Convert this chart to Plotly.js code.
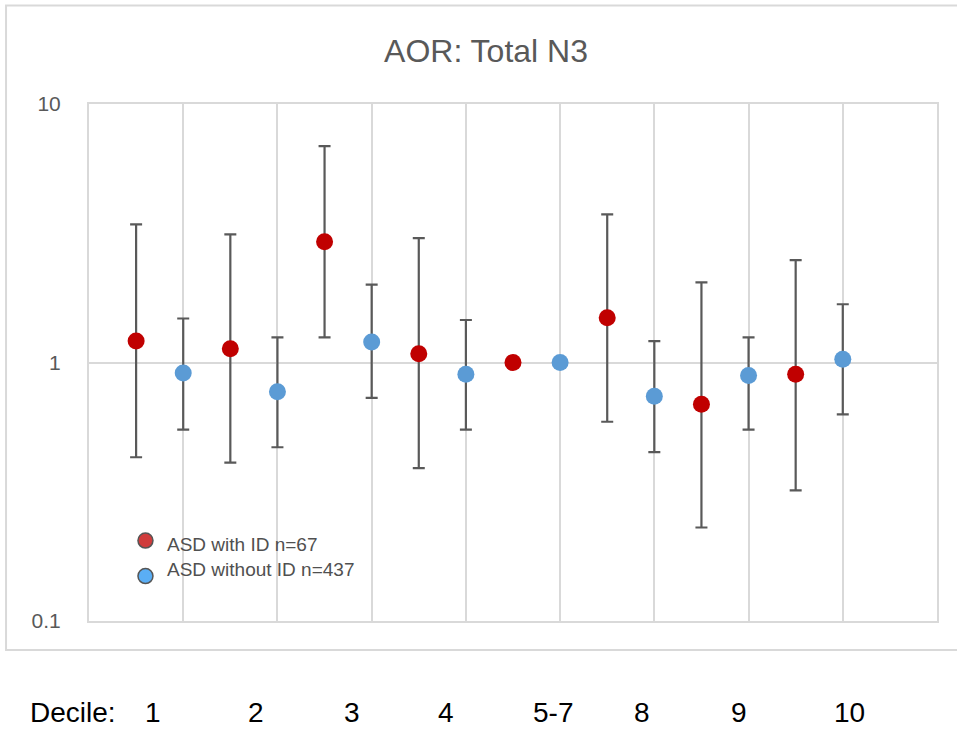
<!DOCTYPE html>
<html>
<head>
<meta charset="utf-8">
<script src="https://cdn.plot.ly/plotly-3.0.1.min.js"></script>
<style>
  html, body { margin: 0; padding: 0; background: #ffffff; }
  #chart { width: 957px; height: 729px; }
</style>
</head>
<body>
<div id="chart"></div>
<script>
// ---- data ----
const decileLabels = ['1', '2', '3', '4', '5-7', '8', '9', '10'];

const redName = 'ASD with ID n=67';
const redAOR   = [1.21, 1.13, 2.93, 1.08, 1.00, 1.49, 0.69, 0.90];
const redUpper = [3.42, 3.13, 6.87, 3.03, null, 3.74, 2.04, 2.49];
const redLower = [0.43, 0.41, 1.25, 0.39, null, 0.59, 0.23, 0.32];

const blueName = 'ASD without ID n=437';
const blueAOR   = [0.91, 0.77, 1.20, 0.90, 1.00, 0.74, 0.89, 1.03];
const blueUpper = [1.48, 1.25, 2.00, 1.46, null, 1.21, 1.25, 1.68];
const blueLower = [0.55, 0.47, 0.73, 0.55, null, 0.45, 0.55, 0.63];

const yTickVals  = [0.1, 1, 10];
const yTickText  = ['0.1', '1', '10'];

// ---- layout geometry (pixels) ----
const L = 89, T = 103.5, W = 848.5, H = 517.5;
const FIG_W = 957, FIG_H = 729;
const px = x => (x - L) / W;
const py = y => (T + H - y) / H;

const redX  = decileLabels.map((d, i) => i + 0.5);
const blueX = decileLabels.map((d, i) => i + 1);

const plus  = (up, v) => up.map((u, i) => (u == null ? null : u - v[i]));
const minus = (lo, v) => lo.map((l, i) => (l == null ? null : v[i] - l));

const errStyle = { color: '#595959', thickness: 2.2, width: 6 };

const traces = [
  {
    type: 'scatter', mode: 'markers', name: redName,
    x: redX, y: redAOR,
    marker: { color: '#C00000', size: 17 },
    error_y: Object.assign({ type: 'data', symmetric: false,
      array: plus(redUpper, redAOR), arrayminus: minus(redLower, redAOR) }, errStyle),
    hoverinfo: 'x+y'
  },
  {
    type: 'scatter', mode: 'markers', name: blueName,
    x: blueX, y: blueAOR,
    marker: { color: '#5B9BD5', size: 17 },
    error_y: Object.assign({ type: 'data', symmetric: false,
      array: plus(blueUpper, blueAOR), arrayminus: minus(blueLower, blueAOR) }, errStyle),
    hoverinfo: 'x+y'
  }
];

const FONT = '"Liberation Sans", Arial, sans-serif';

const labelPx = [153, 256, 352, 446, 553, 642, 739, 850];
const annotations = [
  { text: 'Decile:', x: px(72.5), y: py(713), xref: 'paper', yref: 'paper',
    xanchor: 'center', yanchor: 'middle', showarrow: false,
    font: { family: FONT, size: 28, color: '#000000' } }
].concat(decileLabels.map((d, i) => ({
  text: d, x: px(labelPx[i]), y: py(713), xref: 'paper', yref: 'paper',
  xanchor: 'center', yanchor: 'middle', showarrow: false,
  font: { family: FONT, size: 28, color: '#000000' }
}))).concat([
  { text: redName, x: px(165), y: py(544), xref: 'paper', yref: 'paper',
    xanchor: 'left', yanchor: 'middle', showarrow: false,
    font: { family: FONT, size: 19, color: '#505050' } },
  { text: blueName, x: px(165), y: py(569), xref: 'paper', yref: 'paper',
    xanchor: 'left', yanchor: 'middle', showarrow: false,
    font: { family: FONT, size: 19, color: '#505050' } }
]);

const shapes = [
  // outer chart frame (right side runs off the picture)
  { type: 'rect', xref: 'paper', yref: 'paper',
    x0: px(6), x1: px(975), y0: py(650), y1: py(5),
    line: { color: '#d9d9d9', width: 2 }, fillcolor: 'rgba(0,0,0,0)', layer: 'below' },
  // pasted legend box fading the gridlines
  { type: 'rect', xref: 'paper', yref: 'paper',
    x0: px(96), x1: px(380), y0: py(607), y1: py(488),
    line: { width: 0 }, fillcolor: 'rgba(255,255,255,0.8)', layer: 'between' },
  // legend markers
  { type: 'circle', xref: 'paper', yref: 'paper', xsizemode: 'pixel', ysizemode: 'pixel',
    xanchor: px(145.5), yanchor: py(540.5), x0: -7.5, x1: 7.5, y0: -7.5, y1: 7.5,
    fillcolor: '#D03C3C', line: { color: '#555555', width: 1.5 }, layer: 'above' },
  { type: 'circle', xref: 'paper', yref: 'paper', xsizemode: 'pixel', ysizemode: 'pixel',
    xanchor: px(145.5), yanchor: py(576), x0: -7.5, x1: 7.5, y0: -7.5, y1: 7.5,
    fillcolor: '#5AAEF5', line: { color: '#555555', width: 1.5 }, layer: 'above' }
];

const layout = {
  width: FIG_W, height: FIG_H,
  margin: { l: L, r: FIG_W - L - W, t: T, b: FIG_H - T - H, pad: 0 },
  paper_bgcolor: '#ffffff', plot_bgcolor: '#ffffff',
  showlegend: false,
  title: { text: 'AOR: Total N3', xref: 'container', yref: 'container',
    x: 486 / FIG_W, xanchor: 'center', y: 1 - 51 / FIG_H, yanchor: 'middle',
    font: { family: FONT, size: 32, color: '#595959' } },
  xaxis: {
    range: [0, 9], dtick: 1, tick0: 0, showticklabels: false,
    showgrid: true, gridcolor: '#d9d9d9', gridwidth: 2,
    zeroline: false, showline: true, mirror: true, linecolor: '#d9d9d9', linewidth: 2,
    ticks: '', fixedrange: true
  },
  yaxis: {
    type: 'log', range: [-1, 1], tickvals: yTickVals, ticktext: yTickText,
    showgrid: true, gridcolor: '#d9d9d9', gridwidth: 2,
    zeroline: false, showline: true, mirror: true, linecolor: '#d9d9d9', linewidth: 2,
    ticks: '', ticklabelstandoff: 22,
    tickfont: { family: FONT, size: 21, color: '#595959' }, fixedrange: true
  },
  annotations: annotations,
  shapes: shapes
};

Plotly.newPlot('chart', traces, layout, { displayModeBar: false, staticPlot: true });
</script>
</body>
</html>
